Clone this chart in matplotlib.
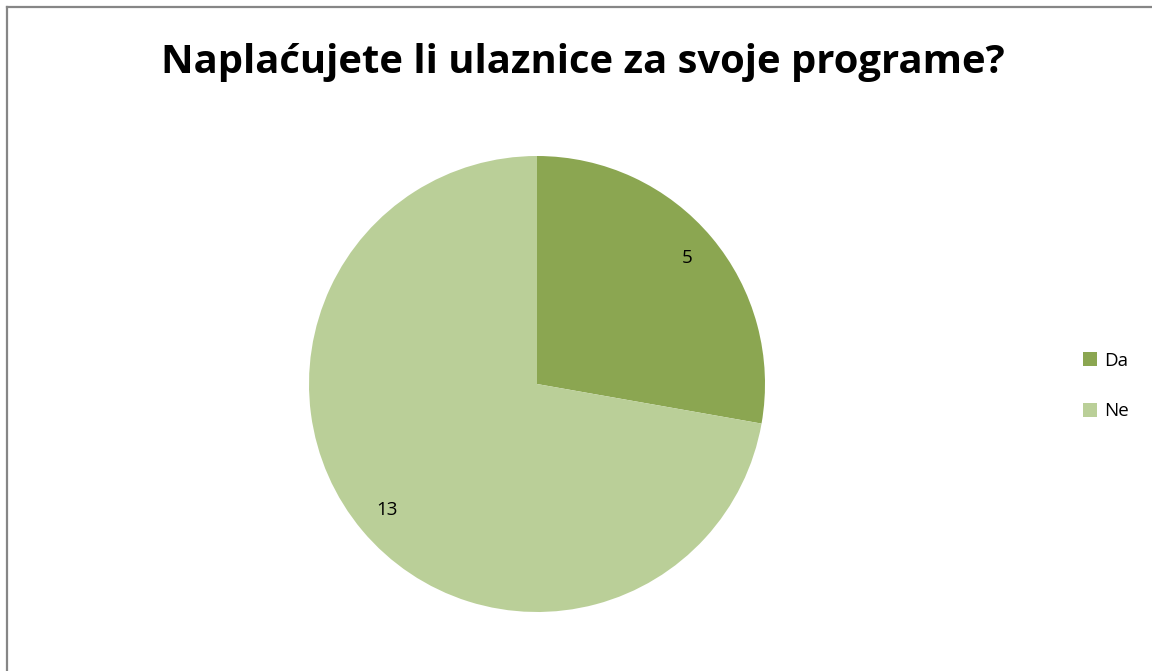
import matplotlib.pyplot as plt
from matplotlib.lines import Line2D

labels = ["Da", "Ne"]
values = [5, 13]
colors = ["#8BA651", "#BACF98"]
title = "Naplaćujete li ulaznice za svoje programe?"

W, H = 1152, 671
fig = plt.figure(figsize=(W / 100, H / 100), dpi=100)
plt.rcParams['font.family'] = ['Open Sans', 'DejaVu Sans']

# border (top and left only visible)
fig.add_artist(Line2D([7 / W, 7 / W], [0, 1 - 7 / H], transform=fig.transFigure, color="#868686", lw=1.6))
fig.add_artist(Line2D([7 / W, 1], [1 - 7 / H, 1 - 7 / H], transform=fig.transFigure, color="#868686", lw=1.6))

cx, cy, r = 537, 384, 228
ax = fig.add_axes([(cx - r) / W, (H - cy - r) / H, 2 * r / W, 2 * r / H])
wedges, texts = ax.pie(values, colors=colors, startangle=90, counterclock=False,
                       labels=[str(v) for v in values], labeldistance=0.86,
                       textprops=dict(fontsize=13.5, color="black"),
                       wedgeprops=dict(linewidth=0))
for t in texts:
    t.set_ha("center")
    t.set_va("center")
ax.set_xlim(-1, 1)
ax.set_ylim(-1, 1)
ax.set_aspect("equal")

fig.text(583 / W, 1 - 62 / H, title, ha="center", va="center",
         fontsize=28.8, fontweight="bold")

fig.legend(wedges, labels, loc="center left", bbox_to_anchor=(1066 / W, 1 - 386 / H),
           frameon=False, fontsize=13.5, handlelength=0.75, handleheight=0.75,
           handletextpad=0.4, labelspacing=1.75)

fig.savefig("out.png", dpi=100, facecolor="white")
